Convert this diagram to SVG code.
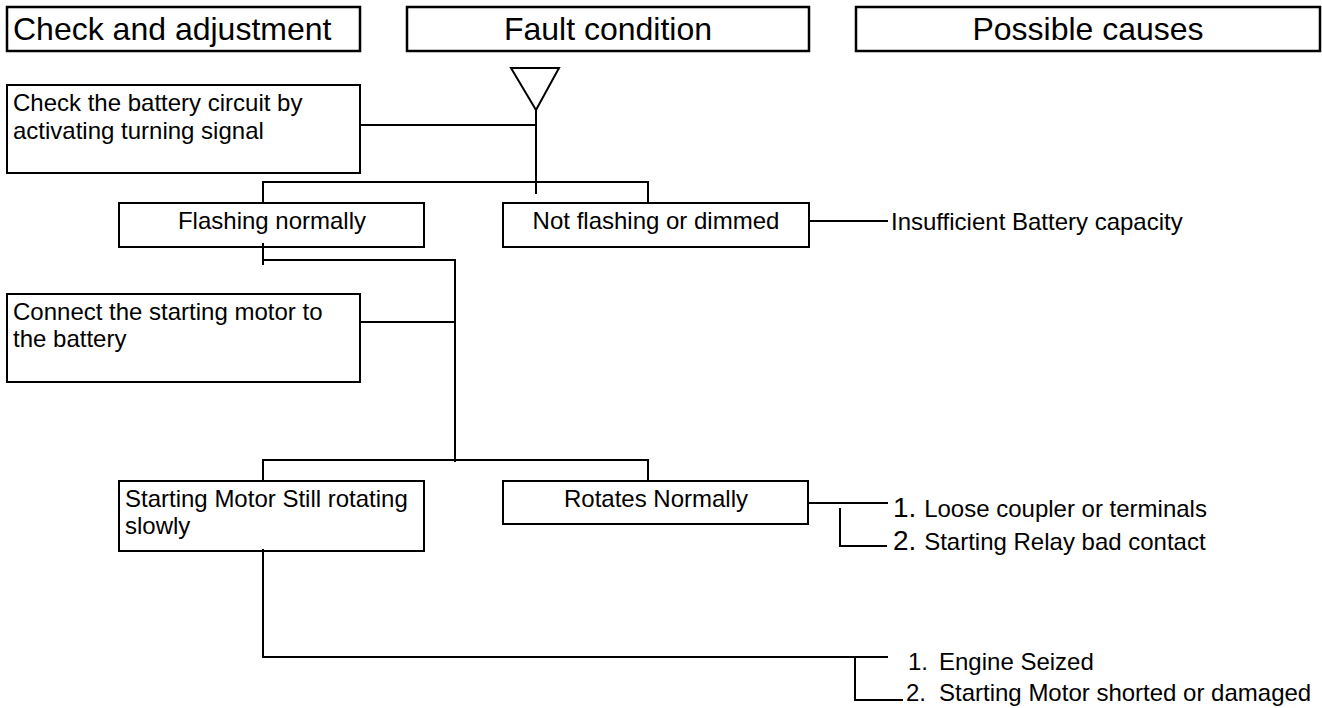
<svg xmlns="http://www.w3.org/2000/svg" width="1322" height="708" viewBox="0 0 1322 708">
<style>
text{font-family:"Liberation Sans",Arial,sans-serif;font-size:24px;fill:#000}
.h{font-size:32px}
.c{text-anchor:middle}
.hb{fill:#fff;stroke:#000;stroke-width:2.5}
.b{fill:#fff;stroke:#000;stroke-width:2}
.w line,.w path,.w polyline{fill:none;stroke:#000;stroke-width:2}
.n{font-size:28px}
</style>
<rect width="1322" height="708" fill="#fff"/>
<g id="hdr-check"><rect class="hb" x="7" y="7" width="353" height="44"/><text class="h" x="13" y="40">Check and adjustment</text></g>
<g id="hdr-fault"><rect class="hb" x="407" y="7" width="402" height="44"/><text class="h c" x="608" y="40">Fault condition</text></g>
<g id="hdr-causes"><rect class="hb" x="856" y="7" width="464" height="44"/><text class="h c" x="1088" y="40">Possible causes</text></g>
<g id="start"><polygon points="511,68 559,68 536,110" fill="#fff" stroke="#000" stroke-width="2"/></g>
<g id="battery-check"><rect class="b" x="7" y="85" width="353" height="88"/><text x="13" y="111">Check the battery circuit by</text><text x="13" y="139">activating turning signal</text></g>
<g id="flashing"><rect class="b" x="119" y="203" width="305" height="44"/><text class="c" x="272" y="229">Flashing normally</text></g>
<g id="not-flashing"><rect class="b" x="503" y="203" width="306" height="44"/><text class="c" x="656" y="229">Not flashing or dimmed</text></g>
<g id="insufficient"><text x="891" y="230">Insufficient Battery capacity</text></g>
<g id="connect-motor"><rect class="b" x="7" y="294" width="353" height="88"/><text x="13" y="320">Connect the starting motor to</text><text x="13" y="347">the battery</text></g>
<g id="still-slow"><rect class="b" x="119" y="481" width="305" height="70"/><text x="125" y="507">Starting Motor Still rotating</text><text x="125" y="534">slowly</text></g>
<g id="rotates"><rect class="b" x="503" y="481" width="305" height="43"/><text class="c" x="656" y="507">Rotates Normally</text></g>
<g id="cause-loose"><text x="893" y="517"><tspan class="n">1. </tspan>Loose coupler or terminals</text></g>
<g id="cause-relay"><text x="893" y="550"><tspan class="n">2. </tspan>Starting Relay bad contact</text></g>
<g id="cause-seized"><text x="908" y="670">1.</text><text x="939" y="670">Engine Seized</text></g>
<g id="cause-shorted"><text x="906" y="701">2.</text><text x="939" y="701">Starting Motor shorted or damaged</text></g>
<g id="connectors" class="w">
<line x1="536" y1="110" x2="536" y2="194"/>
<line x1="360" y1="125" x2="536" y2="125"/>
<polyline points="263,203 263,182 648,182 648,203"/>
<line x1="809" y1="221" x2="888" y2="221"/>
<line x1="263" y1="243" x2="263" y2="265"/>
<polyline points="263,260 455,260 455,462"/>
<line x1="360" y1="322" x2="455" y2="322"/>
<polyline points="263,481 263,460 648,460 648,481"/>
<line x1="808" y1="503" x2="888" y2="503"/>
<polyline points="840,508 840,546 887,546"/>
<polyline points="263,549 263,657 888,657"/>
<polyline points="855,657 855,700 903,700"/>
</g>
</svg>
